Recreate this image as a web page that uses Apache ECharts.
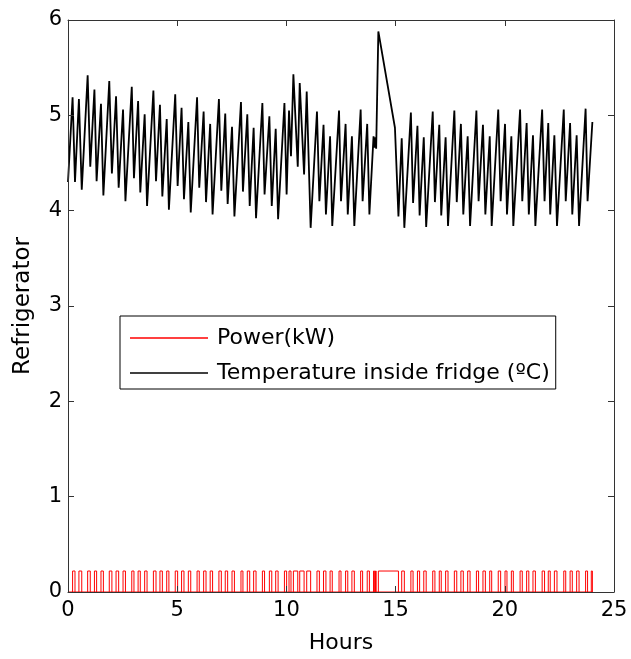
<!DOCTYPE html>
<html>
<head>
<meta charset="utf-8">
<script src="https://cdn.jsdelivr.net/npm/echarts@6/dist/echarts.min.js"></script>
<style>
html,body{margin:0;padding:0;background:#fff;}
#chart{width:631px;height:659px;}
</style>
</head>
<body>
<div id="chart"></div>
<script>
// Temperature inside fridge (ºC): time (hours) and value at each turning point
const tempHours = [
  0.00,0.21,0.32,0.50,0.63,0.90,1.02,1.21,1.31,1.51,1.62,1.89,2.01,2.20,2.32,2.52,2.63,
  2.92,3.02,3.21,3.31,3.51,3.62,3.91,4.03,4.21,4.32,4.52,4.62,4.91,5.02,5.20,5.31,5.51,5.62,
  5.91,6.01,6.21,6.32,6.51,6.62,6.91,7.02,7.20,7.31,7.51,7.62,7.92,8.01,8.21,8.32,8.50,8.61,
  8.90,9.00,9.22,9.33,9.51,9.62,9.91,10.01,10.12,10.21,10.32,10.52,10.61,10.81,10.93,11.11,
  11.40,11.51,11.70,11.81,12.00,12.10,12.41,12.50,12.71,12.81,13.00,13.11,13.40,13.49,13.70,13.80,
  13.99,14.04,14.08,14.11,14.21,14.97,15.13,15.28,15.40,15.70,15.80,16.00,16.10,16.29,16.40,
  16.70,16.80,17.00,17.09,17.29,17.40,17.69,17.80,17.99,18.10,18.30,18.41,18.70,18.80,19.00,19.11,
  19.31,19.40,19.70,19.81,20.01,20.10,20.30,20.39,20.70,20.80,21.00,21.10,21.29,21.40,21.71,21.82,
  21.99,22.08,22.27,22.39,22.70,22.79,22.99,23.09,23.29,23.40,23.70,23.79,24.01
];
const tempValues = [
  4.30,5.19,4.30,5.17,4.22,5.42,4.46,5.27,4.31,5.12,4.16,5.36,4.39,5.20,4.24,5.06,4.10,
  5.30,4.34,5.15,4.19,5.01,4.05,5.26,4.31,5.11,4.15,4.96,4.01,5.22,4.26,5.08,4.12,4.93,3.98,
  5.19,4.24,5.04,4.09,4.91,3.96,5.17,4.21,5.02,4.07,4.88,3.94,5.14,4.20,5.01,4.05,4.87,3.92,
  5.13,4.17,4.99,4.05,4.86,3.91,5.13,4.17,5.05,4.57,5.43,4.46,5.34,4.38,5.25,3.82,
  5.04,4.10,4.90,3.96,4.78,3.84,5.05,4.10,4.91,3.96,4.78,3.84,5.06,4.10,4.91,3.96,
  4.78,4.66,4.77,4.65,5.88,4.87,3.94,4.76,3.82,5.03,4.08,4.89,3.95,4.77,3.83,
  5.04,4.09,4.90,3.95,4.77,3.84,5.05,4.09,4.91,3.96,4.78,3.84,5.05,4.10,4.90,3.96,
  4.78,3.84,5.06,4.10,4.91,3.96,4.78,3.84,5.06,4.10,4.92,3.96,4.79,3.84,5.06,4.10,
  4.92,3.96,4.79,3.84,5.06,4.10,4.92,3.96,4.79,3.84,5.07,4.10,4.93
];
// Power (kW): compressor switch-on and switch-off times (hours) and the on level
const powerOnHours = [
  0.21,0.50,0.90,1.21,1.51,1.89,2.20,2.52,2.92,3.21,3.51,3.91,4.21,4.52,4.91,5.20,5.51,5.91,
  6.21,6.51,6.91,7.20,7.51,7.92,8.21,8.50,8.90,9.22,9.51,9.91,10.12,10.32,10.61,10.93,11.40,11.70,
  12.00,12.41,12.71,13.00,13.40,13.70,13.99,14.08,14.21,15.28,15.70,16.00,16.29,16.70,17.00,17.29,
  17.69,17.99,18.30,18.70,19.00,19.31,19.70,20.01,20.30,20.70,21.00,21.29,21.71,21.99,22.27,22.70,
  22.99,23.29,23.70,23.96
];
const powerOffHours = [
  0.32,0.63,1.02,1.31,1.62,2.01,2.32,2.63,3.02,3.31,3.62,4.03,4.32,4.62,5.02,5.31,5.62,6.01,
  6.32,6.62,7.02,7.31,7.62,8.01,8.32,8.61,9.00,9.33,9.62,10.01,10.21,10.52,10.81,11.11,11.51,11.81,
  12.10,12.50,12.81,13.11,13.49,13.80,14.04,14.11,15.13,15.40,15.80,16.10,16.40,16.80,17.09,17.40,
  17.80,18.10,18.41,18.80,19.11,19.40,19.81,20.10,20.39,20.80,21.10,21.40,21.82,22.08,22.39,22.79,
  23.09,23.40,23.79,24.01
];
const powerLevel = 0.22;
const seriesNames = ['Power(kW)', 'Temperature inside fridge (ºC)'];
const seriesColors = ['#ff0000', '#000000'];
const xTicks = [0, 5, 10, 15, 20, 25];
const yTicks = [0, 1, 2, 3, 4, 5, 6];

const tempData = tempHours.map((t, i) => [t, tempValues[i]]);
// one polyline per compressor pulse, plus the off baseline
const powerLines = [{coords: [[0, 0], [powerOffHours[powerOffHours.length - 1], 0]]}];
powerOnHours.forEach((on, i) => {
  const off = powerOffHours[i];
  powerLines.push({coords: [[on, 0], [on, powerLevel], [off, powerLevel], [off, 0]]});
});

const FONT = 'DejaVu Sans';
const axisColor = '#333';
const chart = echarts.init(document.getElementById('chart'), null, {renderer: 'canvas'});
const baseX = {
  type: 'value', min: xTicks[0], max: xTicks[xTicks.length - 1], interval: 5,
  axisLine: {show: true, onZero: false, lineStyle: {color: axisColor, width: 1}},
  axisTick: {show: true, inside: true, length: 6, lineStyle: {color: axisColor}},
  splitLine: {show: false}, z: 10
};
const baseY = {
  type: 'value', min: yTicks[0], max: yTicks[yTicks.length - 1], interval: 1,
  axisLine: {show: true, onZero: false, lineStyle: {color: axisColor, width: 1}},
  axisTick: {show: true, inside: true, length: 6, lineStyle: {color: axisColor}},
  splitLine: {show: false}, z: 10
};
chart.setOption({
  animation: false,
  backgroundColor: '#fff',
  grid: {left: 68, right: 17, top: 20, bottom: 66, containLabel: false},
  xAxis: [
    Object.assign({}, baseX, {
      position: 'bottom',
      name: 'Hours', nameLocation: 'middle', nameGap: 40,
      nameTextStyle: {fontFamily: FONT, fontSize: 22, color: '#000'},
      axisLabel: {show: true, margin: 8, fontFamily: FONT, fontSize: 21, color: '#000'}
    }),
    Object.assign({}, baseX, {position: 'top', axisLabel: {show: false}})
  ],
  yAxis: [
    Object.assign({}, baseY, {
      position: 'left',
      name: 'Refrigerator', nameLocation: 'middle', nameGap: 33,
      nameTextStyle: {fontFamily: FONT, fontSize: 23, color: '#000'},
      axisLabel: {show: true, margin: 6, fontFamily: FONT, fontSize: 21, color: '#000'}
    }),
    Object.assign({}, baseY, {position: 'right', axisLabel: {show: false}})
  ],
  legend: {
    show: true, orient: 'vertical', left: 120, top: 316,
    data: seriesNames.map((n, i) => ({
      name: n, icon: 'rect',
      itemStyle: {color: seriesColors[i], borderWidth: 0, borderColor: seriesColors[i]}
    })),
    itemWidth: 78, itemHeight: 1.5, itemGap: 11,
    padding: [10, 6, 4, 10],
    borderColor: '#000', borderWidth: 1, backgroundColor: '#fff',
    itemStyle: {borderWidth: 0},
    lineStyle: {width: 0},
    textStyle: {fontFamily: FONT, fontSize: 22, color: '#000', lineHeight: 24, padding: [0, 0, 0, 4]}
  },
  series: [
    {
      name: seriesNames[0], type: 'lines', coordinateSystem: 'cartesian2d', polyline: true,
      data: powerLines, large: false, silent: true,
      lineStyle: {color: seriesColors[0], width: 1, opacity: 1}, itemStyle: {color: seriesColors[0]}, z: 3
    },
    {
      name: seriesNames[1], type: 'line', data: tempData, symbol: 'none', showSymbol: false,
      lineStyle: {color: seriesColors[1], width: 1.8}, itemStyle: {color: seriesColors[1]}, z: 4
    }
  ]
});
</script>
</body>
</html>
